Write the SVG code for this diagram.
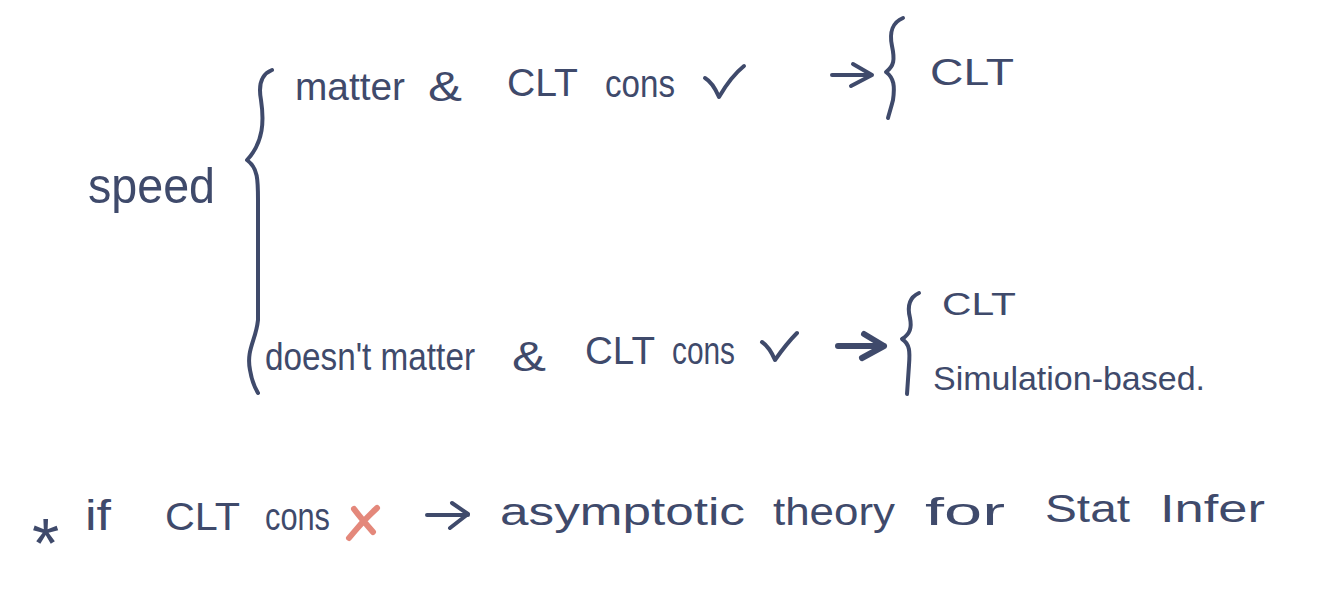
<svg xmlns="http://www.w3.org/2000/svg" width="1320" height="602" viewBox="0 0 1320 602">
<style>
.t{font-family:"Liberation Sans","DejaVu Sans",sans-serif;font-size:38px;fill:#3f4a6b}
.s{fill:none;stroke:#3f4a6b;stroke-width:4;stroke-linecap:round;stroke-linejoin:round}
.b{stroke-width:6}
.r{fill:none;stroke:#e4887b;stroke-width:6;stroke-linecap:round}
</style>
<rect width="1320" height="602" fill="#ffffff"/>
<g id="speed">
<text class="t" x="88" y="203" style="font-size:50px" textLength="127" lengthAdjust="spacingAndGlyphs">speed</text>
</g>
<g id="branch-matter">
<text class="t" x="295" y="100" textLength="110" lengthAdjust="spacingAndGlyphs">matter</text>
<text class="t" x="428" y="101" style="font-size:42px" textLength="34" lengthAdjust="spacingAndGlyphs">&amp;</text>
<text class="t" x="507" y="96" textLength="71" lengthAdjust="spacingAndGlyphs">CLT</text>
<text class="t" x="605" y="97" textLength="70" lengthAdjust="spacingAndGlyphs">cons</text>
<path class="s" d="M705,78 C712,82 716,90 719,97 C726,85 734,74 744,66"/>
</g>
<g id="result-matter">
<text class="t" x="930" y="85" style="font-size:37px" textLength="84" lengthAdjust="spacingAndGlyphs">CLT</text>
</g>
<g id="branch-doesnt">
<text class="t" x="265" y="370" textLength="210" lengthAdjust="spacingAndGlyphs">doesn't matter</text>
<text class="t" x="512" y="371" style="font-size:42px" textLength="34" lengthAdjust="spacingAndGlyphs">&amp;</text>
<text class="t" x="585" y="364" textLength="70" lengthAdjust="spacingAndGlyphs">CLT</text>
<text class="t" x="672" y="364" textLength="63" lengthAdjust="spacingAndGlyphs">cons</text>
<path class="s" d="M762,342 C768,346 772,353 775,360 C782,350 789,341 797,333"/>
</g>
<g id="result-doesnt">
<text class="t" x="942" y="315" style="font-size:32px" textLength="74" lengthAdjust="spacingAndGlyphs">CLT</text>
<text class="t" x="933" y="390" style="font-size:34px" textLength="272" lengthAdjust="spacingAndGlyphs">Simulation-based.</text>
</g>
<g id="note">
<text class="t" x="32" y="568" style="font-size:70px">*</text>
<text class="t" x="85" y="530" style="font-size:42px" textLength="26" lengthAdjust="spacingAndGlyphs">if</text>
<text class="t" x="165" y="530" textLength="75" lengthAdjust="spacingAndGlyphs">CLT</text>
<text class="t" x="265" y="530" textLength="65" lengthAdjust="spacingAndGlyphs">cons</text>
<path class="r" d="M377,508 C366,518 357,528 349,538 M354,509 C360,517 366,524 373,532"/>
<text class="t" x="500" y="525" textLength="245" lengthAdjust="spacingAndGlyphs">asymptotic</text>
<text class="t" x="773" y="525" textLength="122" lengthAdjust="spacingAndGlyphs">theory</text>
<text class="t" x="925" y="525" textLength="80" lengthAdjust="spacingAndGlyphs">for</text>
<text class="t" x="1045" y="522" textLength="85" lengthAdjust="spacingAndGlyphs">Stat</text>
<text class="t" x="1160" y="522" textLength="105" lengthAdjust="spacingAndGlyphs">Infer</text>
</g>
<g id="connectors">
<path class="s" d="M272,70 C262,74 258,84 261,100 C264,120 264,142 247,160 C258,168 258,180 258,200 L258,320 C256,340 246,350 250,370 C252,382 255,388 258,393"/>
<path class="s" d="M903,18 C893,22 889,32 892,46 C895,60 894,66 886,72 C894,78 895,86 893,100 C891,108 889,114 888,118"/>
<path class="s" d="M832,75 L872,75 M853,64 L872,75 L851,86"/>
<path class="s" d="M919,293 C910,297 907,306 910,318 C912,328 910,334 902,339 C910,344 910,352 909,365 L907,394"/>
<path class="s b" d="M838,346 L884,346 M864,334 L884,346 L862,358"/>
<path class="s" d="M427,515 L468,515 M452,503 L468,514 L450,528"/>
</g>
</svg>
